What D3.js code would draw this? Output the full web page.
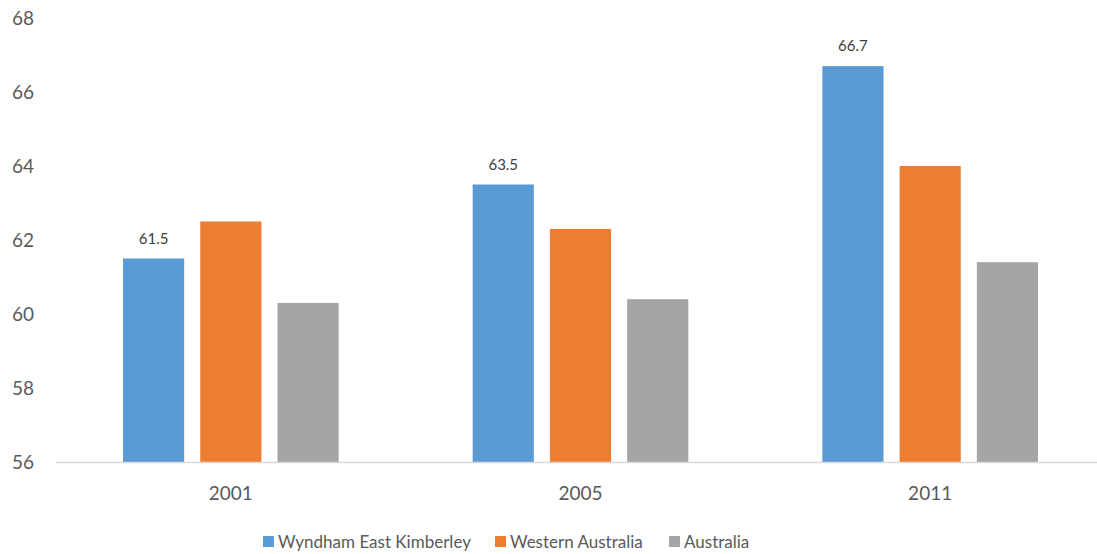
<!DOCTYPE html>
<html>
<head>
<meta charset="utf-8">
<script src="https://cdn.jsdelivr.net/npm/d3@7"></script>
<style>
  html, body { margin: 0; padding: 0; background: #fff; }
  svg { display: block; font-family: Lato, "Open Sans", sans-serif; }
</style>
</head>
<body>
<svg id="chart" width="1097" height="554"></svg>
<script>
// Years on the category axis
const years = ["2001", "2005", "2011"];
// Series names shown in the legend
const seriesNames = ["Wyndham East Kimberley", "Western Australia", "Australia"];
// Values per series, one per year
const wyndham = [61.5, 63.5, 66.7];
const westernAustralia = [62.5, 62.3, 64.0];
const australia = [60.3, 60.4, 61.4];
// Value axis ticks
const yTicks = [56, 58, 60, 62, 64, 66, 68];
// Series that carry data labels
const labelledSeries = ["Wyndham East Kimberley"];

const colors = ["#5B9BD5", "#ED7D31", "#A5A5A5"];
const seriesValues = [wyndham, westernAustralia, australia];

const rows = years.map((yr, i) => ({
  year: yr,
  values: seriesNames.map((s, j) => ({ series: s, value: seriesValues[j][i], color: colors[j] }))
}));

const svg = d3.select("#chart");
const fontFamily = "Lato, 'Open Sans', sans-serif";

const x0 = d3.scaleBand().domain(years).range([56, 1105]).padding(0);
const groupPad = 67;
const x1 = d3.scaleBand().domain(seriesNames)
  .range([groupPad, x0.bandwidth() - groupPad])
  .paddingInner(0.208).paddingOuter(0);
const y = d3.scaleLinear().domain([56, 68]).range([462, 18]);

// Y tick labels (no axis line, no gridlines)
const yAxis = d3.axisLeft(y).tickValues(yTicks).tickSize(0).tickPadding(0).tickFormat(d3.format("d"));
const yG = svg.append("g").attr("transform", "translate(34,0)").call(yAxis);
yG.select(".domain").remove();
yG.selectAll("text").attr("fill", "#595959").style("font-size", "19px")
  .style("font-family", fontFamily);

// Bars
const groups = svg.append("g").selectAll("g").data(rows).join("g")
  .attr("transform", d => `translate(${x0(d.year)},0)`);

groups.selectAll("rect").data(d => d.values).join("rect")
  .attr("x", d => x1(d.series))
  .attr("width", x1.bandwidth())
  .attr("y", d => y(d.value))
  .attr("height", d => y(56) - y(d.value))
  .attr("fill", d => d.color);

// Data labels
groups.selectAll("text.val").data(d => d.values.filter(v => labelledSeries.includes(v.series)))
  .join("text").attr("class", "val")
  .attr("x", d => x1(d.series) + x1.bandwidth() / 2)
  .attr("y", d => y(d.value) - 15)
  .attr("text-anchor", "middle")
  .attr("fill", "#404040")
  .style("font-size", "15px")
  .text(d => d3.format(".1f")(d.value));

// Category axis
const xAxis = d3.axisBottom(x0).tickSize(0).tickPadding(0);
const xG = svg.append("g").attr("transform", "translate(0,462)").call(xAxis);
xG.select(".domain").remove();
xG.selectAll("text").attr("fill", "#595959").attr("dy", "0").attr("y", 38)
  .style("font-size", "19px").style("font-family", fontFamily);
svg.append("line")
  .attr("x1", 56).attr("x2", 1097)
  .attr("y1", y(56) + 0.5).attr("y2", y(56) + 0.5)
  .attr("stroke", "#D9D9D9").attr("stroke-width", 1.5);

// Legend
const legendX = [263, 495, 669];
const legend = svg.append("g").selectAll("g").data(seriesNames).join("g")
  .attr("transform", (d, i) => `translate(${legendX[i]},536)`);
legend.append("rect").attr("width", 11).attr("height", 11).attr("y", 0)
  .attr("fill", (d, i) => colors[i]);
legend.append("text").attr("x", 15).attr("y", 12)
  .attr("fill", "#595959").style("font-size", "17px").text(d => d);
</script>
</body>
</html>
